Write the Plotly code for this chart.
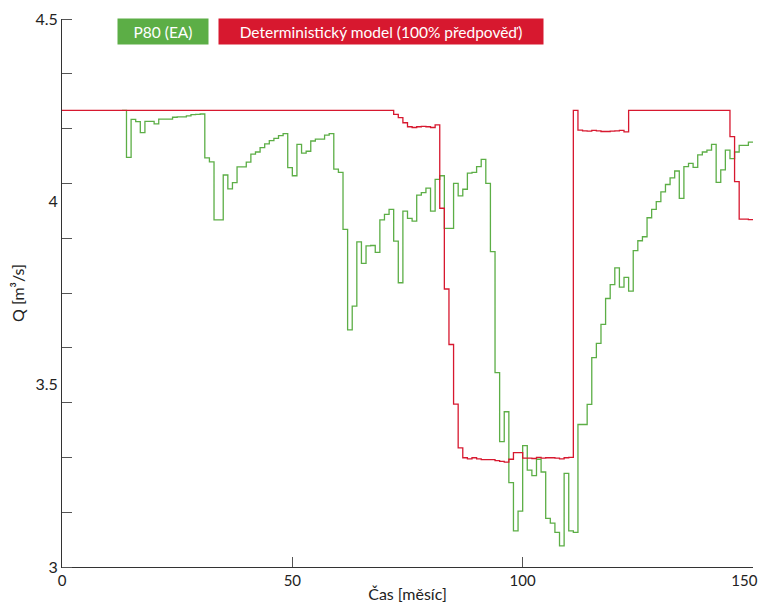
import plotly.graph_objects as go

# ---- data ----
green_months = list(range(13, 150))
green_values = [
    4.250, 4.121, 4.225, 4.219, 4.189, 4.220, 4.220, 4.213, 4.226, 4.226,   # 13-22
    4.226, 4.231, 4.232, 4.232, 4.235, 4.238, 4.239, 4.240, 4.120, 4.109,   # 23-32
    3.950, 3.950, 4.073, 4.035, 4.052, 4.095, 4.095, 4.108, 4.130, 4.136,   # 33-42
    4.148, 4.158, 4.167, 4.173, 4.181, 4.186, 4.093, 4.071, 4.157, 4.133,   # 43-52
    4.138, 4.166, 4.171, 4.171, 4.182, 4.186, 4.089, 4.080, 3.924, 3.649,   # 53-62
    3.714, 3.890, 3.831, 3.879, 3.880, 3.861, 3.950, 3.965, 3.979, 3.892,   # 63-72
    3.778, 3.974, 3.954, 3.947, 4.018, 4.025, 4.037, 3.974, 4.061, 4.071,   # 73-82
    3.927, 3.927, 4.050, 4.016, 4.034, 4.078, 4.080, 4.096, 4.116, 4.050,   # 83-92
    3.863, 3.532, 3.343, 3.425, 3.231, 3.099, 3.153, 3.332, 3.265, 3.250,   # 93-102
    3.295, 3.260, 3.133, 3.120, 3.095, 3.058, 3.256, 3.099, 3.095, 3.390,   # 103-112
    3.390, 3.445, 3.573, 3.612, 3.664, 3.735, 3.773, 3.819, 3.766, 3.793,   # 113-122
    3.755, 3.866, 3.893, 3.904, 3.956, 3.979, 4.000, 4.027, 4.047, 4.065,   # 123-132
    4.084, 4.009, 4.096, 4.105, 4.094, 4.128, 4.136, 4.141, 4.157, 4.053,   # 133-142
    4.087, 4.141, 4.118, 4.136, 4.154, 4.154, 4.163,                        # 143-149
]

red_months = list(range(0, 150))
red_values = (
    [4.25] * 72 +                                                           # 0-71
    [4.239, 4.230, 4.216, 4.205, 4.203, 4.205, 4.206, 4.205, 4.203, 4.210,  # 72-81
     3.982, 3.761, 3.609, 3.446, 3.326, 3.299, 3.296, 3.299, 3.296, 3.294,  # 82-91
     3.294, 3.294, 3.291, 3.289, 3.287, 3.295, 3.313, 3.313, 3.298, 3.298,  # 92-101
     3.297, 3.300, 3.298, 3.299, 3.299, 3.298, 3.296, 3.299, 3.300, 4.250,  # 102-111
     4.196, 4.194, 4.193, 4.195, 4.194, 4.192, 4.192, 4.193, 4.194, 4.195,  # 112-121
     4.191] +                                                               # 122
    [4.25] * 22 +                                                           # 123-144
    [4.178, 4.055, 3.952, 3.952, 3.951]                                     # 145-149
)

x_end = 150
x_tick_vals = [0, 50, 100, 150]
# the last label is padded with figure spaces so it stays inside the window
x_tick_text = ["0", "50", "100", "150\u2007\u2007"]
y_label_vals = [3, 3.5, 4, 4.5]
y_label_text = ["3", "3.5", "4", "4.5"]
y_top_tick = [4.5]

GREEN = "#5cae46"
RED = "#d7182f"
FONT = "Lato"

# The page body has an 8px margin, so the figure is sized/offset for it.
PLOT_W, PLOT_H = 691, 548

fig = go.Figure()
fig.add_trace(go.Scatter(
    x=green_months + [x_end], y=green_values + [green_values[-1]],
    mode="lines", line=dict(color=GREEN, width=1.3, shape="hv"),
    name="P80 (EA)", showlegend=False))
fig.add_trace(go.Scatter(
    x=red_months + [x_end], y=red_values + [red_values[-1]],
    mode="lines", line=dict(color=RED, width=1.3, shape="hv"),
    name="Deterministický model (100% předpověď)", showlegend=False))

fig.update_layout(
    width=758, height=600,
    margin=dict(l=54, r=13, t=11, b=41),
    paper_bgcolor="white", plot_bgcolor="white",
    font=dict(family=FONT, size=16, color="#222"),
    xaxis=dict(
        range=[0, 150], tickvals=x_tick_vals, ticktext=x_tick_text,
        automargin=False, ticklabeloverflow="allow",
        ticks="inside", ticklen=10, tickcolor="#555", tickwidth=1,
        showline=True, linecolor="#333", linewidth=1,
        showgrid=False, zeroline=False,
        title=dict(text="Čas [měsíc]", standoff=0, font=dict(size=16)),
        tickfont=dict(size=15),
    ),
    yaxis=dict(
        range=[3, 4.5], tickvals=y_label_vals, ticktext=y_label_text,
        automargin=False, ticklabeloverflow="allow",
        ticks="", showline=True, linecolor="#333", linewidth=1,
        showgrid=False, zeroline=False,
        minor=dict(ticks="inside", tick0=3, dtick=0.15, ticklen=10,
                   tickcolor="#555", tickwidth=1, showgrid=False),
        title=dict(text="Q [m³/s]", standoff=12, font=dict(size=16)),
        tickfont=dict(size=16),
    ),
)

# short inward tick at the top of the y axis (4.5)
fig.add_shape(type="line", xref="x domain", yref="y", x0=0, x1=10 / PLOT_W,
              y0=y_top_tick[0], y1=y_top_tick[0],
              line=dict(color="#555", width=1))

# legend boxes
fig.add_annotation(
    x=(163 - 62) / PLOT_W, y=(567 - 31.5) / PLOT_H, xref="paper", yref="paper",
    text="P80 (EA)", showarrow=False, bgcolor=GREEN, width=90, height=25,
    borderpad=0, font=dict(color="white", size=15.5, family=FONT),
    xanchor="center", yanchor="middle")
fig.add_annotation(
    x=(381 - 62) / PLOT_W, y=(567 - 31.5) / PLOT_H, xref="paper", yref="paper",
    text="Deterministický model (100% předpověď)", showarrow=False,
    bgcolor=RED, width=324, height=25, borderpad=0,
    font=dict(color="white", size=15.5, family=FONT),
    xanchor="center", yanchor="middle")

fig.write_html("out.html")
